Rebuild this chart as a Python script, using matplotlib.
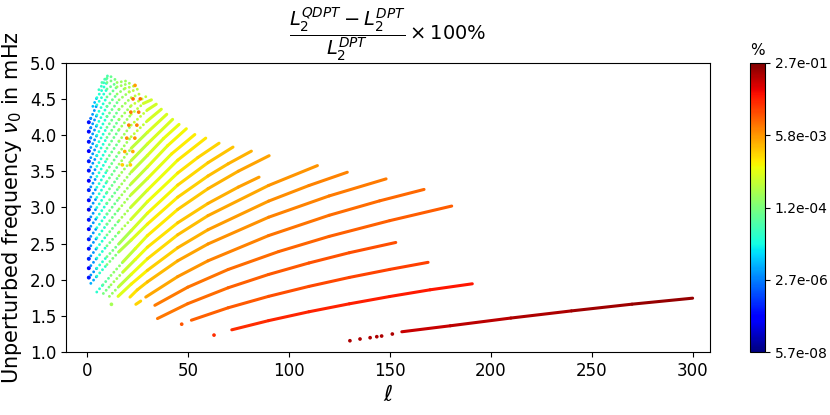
import numpy as np
import matplotlib
matplotlib.use("Agg")
import matplotlib.pyplot as plt
from matplotlib.collections import LineCollection
from matplotlib.colors import LogNorm
from matplotlib.cm import ScalarMappable

# ---------------- data ----------------
# each ridge: harmonic degree ell, frequency nu (mHz), log10 of relative difference (%)
ell_A = [156, 180, 210, 240, 270, 300]
nu_A = [1.28, 1.363, 1.47, 1.569, 1.662, 1.745]
lg_A = [-1.03, -0.96, -0.86, -0.80, -0.73, -0.66]

ell_B = [71.8, 90, 110, 130, 150, 170, 190.9]
nu_B = [1.307, 1.434, 1.557, 1.667, 1.768, 1.861, 1.944]
lg_B = [-1.50, -1.47, -1.43, -1.40, -1.36, -1.34, -1.33]

ell_C = [51.8, 70, 90, 110, 130, 150, 169]
nu_C = [1.44, 1.612, 1.770, 1.908, 2.032, 2.143, 2.241]
lg_C = [-1.90, -1.83, -1.77, -1.70, -1.67, -1.63, -1.63]

ell_D = [35, 50, 70, 90, 110, 130, 153]
nu_D = [1.463, 1.669, 1.889, 2.073, 2.232, 2.374, 2.516]
lg_D = [-2.07, -1.96, -1.90, -1.83, -1.77, -1.73, -1.70]

ell_E = [33.7, 50, 70, 95, 120, 150, 180.7]
nu_E = [1.646, 1.897, 2.142, 2.39, 2.60, 2.818, 3.02]
lg_E = [-2.07, -2.00, -1.96, -1.90, -1.87, -1.83, -1.83]

ell_F1 = [24.3, 26.7]
nu_F1 = [1.66, 1.705]
lg_F1 = [-2.70, -2.63]

ell_F = [29.2, 45, 60, 90, 120, 145, 167]
nu_F = [1.76, 2.043, 2.262, 2.611, 2.892, 3.092, 3.25]
lg_F = [-2.43, -2.27, -2.17, -2.03, -1.96, -1.93, -1.90]

ell_G = [21.4, 25, 30, 45, 60, 90, 120, 148.2]
nu_G = [1.76, 1.86, 1.97, 2.262, 2.495, 2.865, 3.16, 3.396]
lg_G = [-2.84, -2.70, -2.57, -2.37, -2.27, -2.13, -2.07, -2.03]

ell_H = [15.5, 22, 30, 45, 60, 90, 110, 129]
nu_H = [1.77, 1.94, 2.13, 2.443, 2.692, 3.088, 3.304, 3.488]
lg_H = [-3.24, -2.97, -2.77, -2.50, -2.37, -2.20, -2.13, -2.07]

ell_I = [11.2, 16, 22, 30, 45, 60, 90, 114.2]
nu_I = [1.77, 1.91, 2.075, 2.29, 2.622, 2.887, 3.305, 3.58]
lg_I = [-3.91, -3.50, -3.17, -2.84, -2.57, -2.43, -2.27, -2.17]

ell_J = [8.2, 12, 18, 24, 30, 45, 60, 75, 85.3]
nu_J = [1.81, 1.93, 2.11, 2.28, 2.45, 2.788, 3.056, 3.282, 3.42]
lg_J = [-4.11, -3.77, -3.44, -3.10, -2.90, -2.63, -2.47, -2.33, -2.27]

ell_K = [4.95, 8, 12, 18, 24, 30, 45, 60, 75, 90.3]
nu_K = [1.83, 1.93, 2.06, 2.25, 2.43, 2.61, 2.973, 3.26, 3.502, 3.717]
lg_K = [-4.77, -4.37, -3.97, -3.55, -3.20, -2.95, -2.67, -2.50, -2.37, -2.30]

ell_L = [2, 5, 10, 16, 22, 30, 45, 60, 70, 81.5]
nu_L = [1.95, 2.05, 2.21, 2.39, 2.55, 2.77, 3.142, 3.436, 3.605, 3.78]
lg_L = [-5.64, -4.91, -4.17, -3.62, -3.27, -3.00, -2.70, -2.57, -2.47, -2.39]

ell_M = [1, 2, 5, 10, 16, 22, 30, 45, 60, 72.4]
nu_M = [2.03, 2.065, 2.16, 2.32, 2.50, 2.68, 2.92, 3.31, 3.62, 3.836]
lg_M = [-6.30, -5.90, -4.97, -4.24, -3.70, -3.34, -3.07, -2.77, -2.63, -2.51]

ell_N = [1, 2, 5, 10, 16, 22, 30, 45, 55, 65.5]
nu_N = [2.16, 2.195, 2.30, 2.47, 2.66, 2.84, 3.08, 3.477, 3.692, 3.89]
lg_N = [-6.30, -5.90, -4.97, -4.24, -3.70, -3.34, -3.10, -2.84, -2.70, -2.61]

ell_O = [1, 2, 5, 10, 16, 22, 30, 45, 58.9]
nu_O = [2.29, 2.33, 2.44, 2.62, 2.82, 3.01, 3.24, 3.655, 3.96]
lg_O = [-6.30, -5.90, -4.97, -4.24, -3.74, -3.40, -3.14, -2.87, -2.70]

ell_P = [1, 2, 5, 10, 16, 22, 30, 42, 53.5]
nu_P = [2.43, 2.47, 2.58, 2.77, 2.98, 3.18, 3.40, 3.742, 4.01]
lg_P = [-6.30, -5.90, -4.97, -4.24, -3.74, -3.40, -3.17, -2.93, -2.79]

ell_Q = [1, 2, 5, 10, 16, 22, 30, 40, 49.3]
nu_Q = [2.56, 2.60, 2.72, 2.91, 3.13, 3.33, 3.56, 3.855, 4.09]
lg_Q = [-6.30, -5.90, -4.97, -4.30, -3.80, -3.44, -3.20, -3.00, -2.87]

ell_R = [1, 2, 5, 10, 16, 22, 30, 38, 45.7]
nu_R = [2.70, 2.74, 2.86, 3.06, 3.28, 3.49, 3.72, 3.955, 4.15]
lg_R = [-6.30, -5.90, -4.97, -4.30, -3.80, -3.47, -3.24, -3.07, -2.97]

ell_S1 = [1, 2, 5, 10, 16, 22, 30, 42.5]
nu_S1 = [2.83, 2.87, 3.00, 3.21, 3.44, 3.65, 3.88, 4.22]
lg_S1 = [-6.30, -5.90, -4.97, -4.30, -3.80, -3.47, -3.27, -3.04]

ell_S2 = [1, 2, 5, 10, 16, 22, 30, 39.6]
nu_S2 = [2.97, 3.01, 3.14, 3.36, 3.60, 3.82, 4.04, 4.29]
lg_S2 = [-6.30, -5.90, -4.97, -4.30, -3.80, -3.47, -3.27, -3.07]

ell_S3 = [1, 2, 5, 10, 16, 22, 30, 36.9]
nu_S3 = [3.10, 3.145, 3.28, 3.51, 3.76, 3.98, 4.20, 4.36]
lg_S3 = [-6.30, -5.90, -4.97, -4.30, -3.80, -3.47, -3.27, -3.10]

ell_S4 = [1, 2, 5, 10, 16, 22, 30, 34.4]
nu_S4 = [3.24, 3.285, 3.43, 3.67, 3.92, 4.14, 4.35, 4.43]
lg_S4 = [-6.30, -5.90, -4.97, -4.30, -3.80, -3.47, -3.27, -3.14]

ell_S5 = [1, 2, 5, 10, 16, 22, 28, 32]
nu_S5 = [3.37, 3.42, 3.57, 3.82, 4.08, 4.29, 4.44, 4.49]
lg_S5 = [-6.30, -5.90, -4.97, -4.30, -3.80, -3.47, -3.30, -3.17]

ell_T6 = [1, 2, 5, 10, 16, 22, 29.6]
nu_T6 = [3.51, 3.56, 3.72, 3.97, 4.22, 4.41, 4.54]
lg_T6 = [-6.30, -5.90, -4.97, -4.30, -3.80, -3.47, -3.24]

ell_T7 = [1, 2, 5, 10, 16, 22, 27.5]
nu_T7 = [3.64, 3.69, 3.86, 4.11, 4.36, 4.52, 4.59]
lg_T7 = [-6.30, -5.90, -4.97, -4.30, -3.80, -3.50, -3.27]

ell_T8 = [1, 2, 5, 10, 16, 21, 25.4]
nu_T8 = [3.78, 3.83, 4.00, 4.26, 4.49, 4.60, 4.64]
lg_T8 = [-6.30, -5.90, -4.97, -4.30, -3.80, -3.54, -3.30]

ell_T9 = [1, 2, 5, 10, 15, 19, 23.3]
nu_T9 = [3.91, 3.965, 4.14, 4.40, 4.57, 4.65, 4.68]
lg_T9 = [-6.30, -5.90, -4.97, -4.30, -3.87, -3.60, -3.34]

ell_T10 = [1, 2, 5, 10, 15, 21.2]
nu_T10 = [4.05, 4.105, 4.28, 4.53, 4.67, 4.72]
lg_T10 = [-6.30, -5.90, -4.97, -4.30, -3.87, -3.37]

ell_T11 = [1, 2, 5, 10, 15, 19.2]
nu_T11 = [4.18, 4.235, 4.42, 4.64, 4.73, 4.75]
lg_T11 = [-6.30, -5.90, -4.97, -4.30, -3.87, -3.40]

ell_U1 = [3, 5, 10, 15.5]
nu_U1 = [4.40, 4.52, 4.73, 4.79]
lg_U1 = [-5.30, -4.97, -4.30, -3.60]

ell_U2 = [6, 10, 13]
nu_U2 = [4.63, 4.79, 4.82]
lg_U2 = [-4.70, -4.30, -3.84]

ell_U3 = [7.5, 10.5]
nu_U3 = [4.73, 4.83]
lg_U3 = [-4.50, -4.10]

# isolated modes drawn as single dots
ell_dots = [130.3, 135.3, 140.3, 143.6, 146.0, 151.3, 63, 47, 12.2,
            22.9, 26.5, 21.8, 25.7, 20.8, 24.8, 19.8, 23.8, 18.8, 22.8, 17.6, 21.6, 23.9]
nu_dots = [1.156, 1.18, 1.198, 1.212, 1.221, 1.249, 1.234, 1.385, 1.66,
           4.503, 4.503, 4.32, 4.32, 4.14, 4.14, 3.96, 3.96, 3.775, 3.775, 3.59, 3.59, 4.69]
lg_dots = [-0.83, -0.83, -0.83, -0.83, -0.83, -0.83, -1.50, -1.77, -3.57,
           -1.96, -1.96, -2.03, -2.03, -2.10, -2.10, -2.17, -2.17, -2.37, -2.37, -2.63, -2.63, -2.30]

# the l = 1 column of low-degree modes
ell_col1 = [1, 1, 1, 1, 1, 1, 1, 1, 1, 1, 1, 1, 1, 1, 1, 1, 1]
nu_col1 = [2.03, 2.16, 2.29, 2.43, 2.56, 2.70, 2.83, 2.97, 3.10, 3.24,
           3.37, 3.51, 3.64, 3.78, 3.91, 4.05, 4.18]
lg_col1 = [-6.30, -6.40, -6.20, -6.35, -6.25, -6.45, -6.30, -6.60, -6.35, -6.20,
           -6.50, -6.30, -6.25, -6.40, -6.30, -6.35, -6.30]

x_ticks = [0, 50, 100, 150, 200, 250, 300]
y_ticks = [1.0, 1.5, 2.0, 2.5, 3.0, 3.5, 4.0, 4.5, 5.0]
cbar_min = 5.66e-08
cbar_max = 2.74e-01
cbar_ticks = [5.66e-08, 2.655e-06, 1.245e-04, 5.84e-03, 2.74e-01]

ridges = [
    (ell_A, nu_A, lg_A), (ell_B, nu_B, lg_B), (ell_C, nu_C, lg_C),
    (ell_D, nu_D, lg_D), (ell_E, nu_E, lg_E), (ell_F1, nu_F1, lg_F1),
    (ell_F, nu_F, lg_F), (ell_G, nu_G, lg_G), (ell_H, nu_H, lg_H),
    (ell_I, nu_I, lg_I), (ell_J, nu_J, lg_J), (ell_K, nu_K, lg_K),
    (ell_L, nu_L, lg_L), (ell_M, nu_M, lg_M), (ell_N, nu_N, lg_N),
    (ell_O, nu_O, lg_O), (ell_P, nu_P, lg_P), (ell_Q, nu_Q, lg_Q),
    (ell_R, nu_R, lg_R), (ell_S1, nu_S1, lg_S1), (ell_S2, nu_S2, lg_S2),
    (ell_S3, nu_S3, lg_S3), (ell_S4, nu_S4, lg_S4), (ell_S5, nu_S5, lg_S5),
    (ell_T6, nu_T6, lg_T6), (ell_T7, nu_T7, lg_T7), (ell_T8, nu_T8, lg_T8),
    (ell_T9, nu_T9, lg_T9), (ell_T10, nu_T10, lg_T10), (ell_T11, nu_T11, lg_T11),
    (ell_U1, nu_U1, lg_U1), (ell_U2, nu_U2, lg_U2), (ell_U3, nu_U3, lg_U3),
]

# ---------------- drawing ----------------
cmap = plt.get_cmap("jet")
norm = LogNorm(vmin=cbar_min, vmax=cbar_max)

fig = plt.figure(figsize=(8.3, 4.15), dpi=100)
ax = fig.add_axes([0.0795, 0.1518, 0.7759, 0.6964])
cax = fig.add_axes([0.9036, 0.1518, 0.0181, 0.6964])

solid_segs, solid_cols, dot_segs, dot_cols = [], [], [], []
for ell, nu, lg in ridges:
    pct = 10.0 ** np.asarray(lg, dtype=float)
    for i in range(len(ell) - 1):
        seg = [(ell[i], nu[i]), (ell[i + 1], nu[i + 1])]
        col = cmap(norm(np.sqrt(pct[i] * pct[i + 1])))
        lmid = 0.5 * (ell[i] + ell[i + 1])
        nmid = 0.5 * (nu[i] + nu[i + 1])
        if lmid < 15 + 5 * (nmid - 1.8):
            dot_segs.append(seg)
            dot_cols.append(col)
        else:
            solid_segs.append(seg)
            solid_cols.append(col)

lc_dot = LineCollection(dot_segs, colors=dot_cols, linewidths=2.1,
                        linestyles=[(0, (0.01, 1.45))], capstyle="round")
ax.add_collection(lc_dot)
lc_solid = LineCollection(solid_segs, colors=solid_cols, linewidths=2.2,
                          capstyle="round", joinstyle="round")
ax.add_collection(lc_solid)

ax.scatter(ell_col1, nu_col1, c=10.0 ** np.asarray(lg_col1), cmap=cmap, norm=norm,
           s=8, linewidths=0, zorder=3)
ax.scatter(ell_dots, nu_dots, c=10.0 ** np.asarray(lg_dots), cmap=cmap, norm=norm,
           s=7, linewidths=0, zorder=3)

ax.set_xlim(-10.3, 308.6)
ax.set_ylim(1.0, 5.0)
ax.set_xticks(x_ticks)
ax.set_yticks(y_ticks)
ax.tick_params(labelsize=12)
ax.set_xlabel(r"$\ell$", fontsize=16)
ax.set_ylabel(r"Unperturbed frequency $\nu_0$ in mHz", fontsize=15)
ax.set_title(r"$\dfrac{L_2^{QDPT}-L_2^{DPT}}{L_2^{DPT}}\times 100\%$", fontsize=14)

cb = fig.colorbar(ScalarMappable(norm=norm, cmap=cmap), cax=cax)
cb.set_ticks(cbar_ticks)
cb.set_ticklabels([f"{v:.1e}" for v in cbar_ticks])
cb.ax.tick_params(labelsize=10)
cb.ax.minorticks_off()
cax.set_title("%", fontsize=11)

fig.savefig("out.png", dpi=100)
